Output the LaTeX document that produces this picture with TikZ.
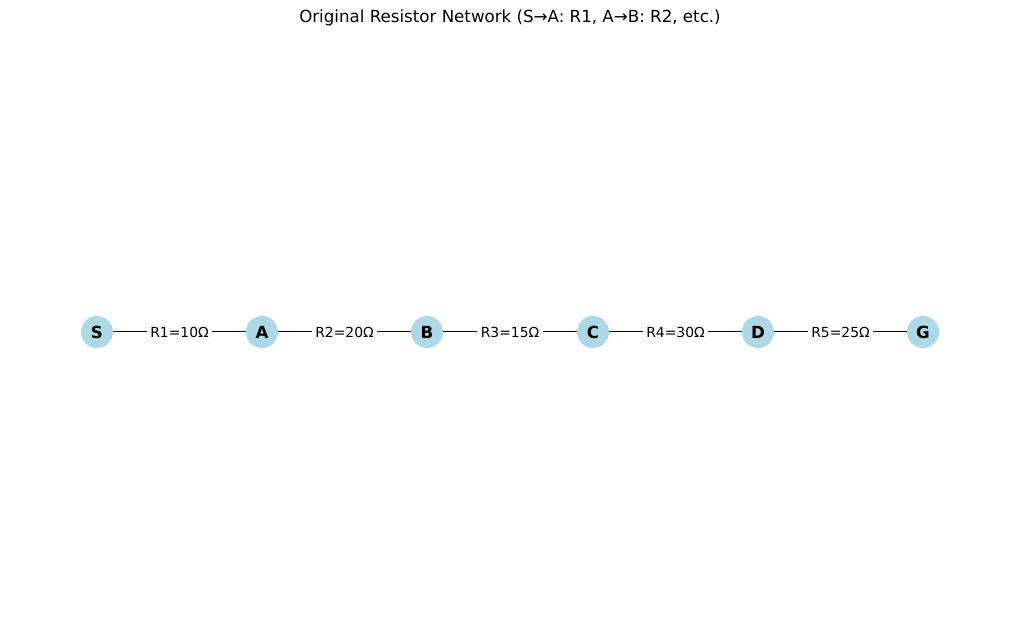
\documentclass[tikz,border=0pt]{standalone}
\usepackage{fontspec}
\setmainfont{DejaVu Sans}
\usepackage{tikz}
\definecolor{nodeblue}{HTML}{ADD8E6}
\newlength{\pxunit}
\setlength{\pxunit}{0.72pt}
\tikzstyle{junction}=[circle, fill=nodeblue, inner sep=0, minimum size=32\pxunit, font=\fontsize{12}{14}\selectfont\bfseries]
\tikzstyle{resistor}=[draw=black, line width=0.72pt]
\tikzstyle{rlabel}=[fill=white, inner sep=2.5pt, font=\fontsize{10}{12}\selectfont]
\tikzstyle{resistornetwork}=[x=\pxunit, y=-\pxunit,
                             % Keep the page at the size of the reference.
                             execute at begin picture={\useasboundingbox (0, 0) rectangle (1019, 642);}]

\begin{document}
\begin{tikzpicture}[resistornetwork]
        \node[font=\fontsize{12}{14}\selectfont] (title) at (510, 18) {Original Resistor Network (S→A: R1, A→B: R2, etc.)};
        \node[junction] (S) at (97, 332) {S};
        \node[junction] (A) at (262, 332) {A};
        \node[junction] (B) at (427, 332) {B};
        \node[junction] (C) at (593, 332) {C};
        \node[junction] (D) at (758, 332) {D};
        \node[junction] (G) at (923, 332) {G};
        \draw[resistor] (S) -- node[rlabel] {R1=10Ω} (A);
        \draw[resistor] (A) -- node[rlabel] {R2=20Ω} (B);
        \draw[resistor] (B) -- node[rlabel] {R3=15Ω} (C);
        \draw[resistor] (C) -- node[rlabel] {R4=30Ω} (D);
        \draw[resistor] (D) -- node[rlabel] {R5=25Ω} (G);
    \end{tikzpicture}
\end{document}
